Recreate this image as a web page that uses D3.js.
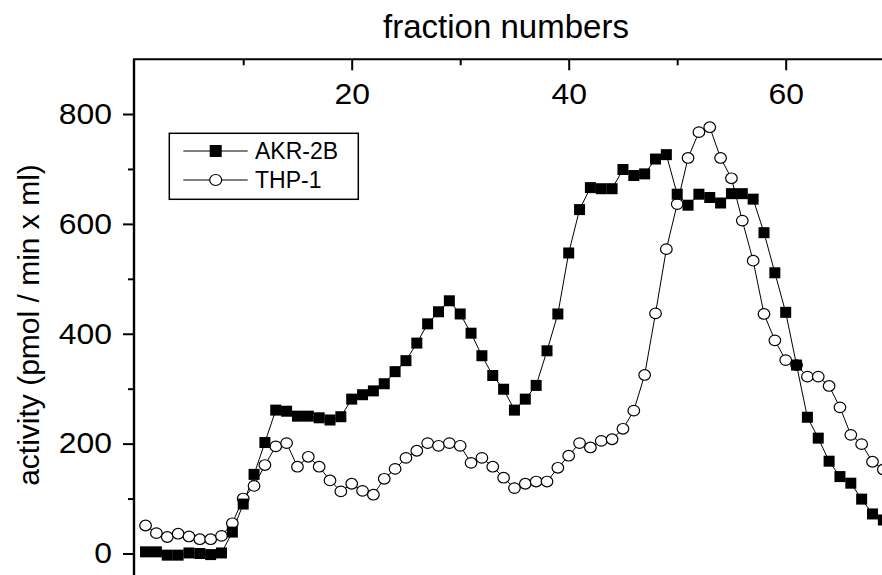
<!DOCTYPE html>
<html lang="en">
<head>
<meta charset="UTF-8">
<title>fraction activity</title>
<style>
  body { margin: 0; background: #fff; }
  svg { display: block; }
  text { font-family: Arial, "Liberation Sans", sans-serif; fill: #000; }
</style>
</head>
<body>
<svg id="chart" width="882" height="575"></svg>
<script src="https://cdn.jsdelivr.net/npm/d3@7"></script>
<script>
// fraction numbers 1..69
var fractions = d3.range(1, 70);
var akr2b = [3, 3, -3, -3, 1, 0, -2, 1, 39, 90,
             144, 202, 261, 259, 250, 250, 247, 243, 249, 281,
             289, 296, 309, 331, 351, 383, 418, 440, 460, 436,
             401, 360, 324, 299, 261, 281, 306, 369, 436, 547,
             626, 666, 664, 664, 699, 688, 691, 718, 726, 654,
             634, 654, 648, 638, 655, 655, 645, 584, 511, 439,
             343, 248, 210, 168, 140, 128, 99, 72, 61];
var thp1 = [51, 37, 30, 36, 31, 26, 26, 32, 55, 100,
            123, 161, 195, 201, 158, 176, 158, 133, 113, 127,
            114, 107, 136, 154, 174, 187, 201, 196, 201, 196,
            165, 174, 158, 138, 119, 127, 131, 131, 156, 178,
            201, 193, 205, 208, 227, 260, 325, 437, 554, 636,
            720, 767, 776, 720, 683, 606, 533, 436, 388, 352,
            343, 322, 322, 305, 266, 216, 199, 167, 153];
var xMajor = [20, 40, 60];
var xMinor = [10, 30, 50, 70];
var yMajor = [0, 200, 400, 600, 800];
var yMinor = [100, 300, 500, 700];
var seriesNames = ["AKR-2B", "THP-1"];

var svg = d3.select("#chart");

var x = d3.scaleLinear().domain([0, 70]).range([134.7, 894.2]);
var y = d3.scaleLinear().domain([0, 800]).range([553.5, 114]);
var topY = 59.3, leftX = 134;
var stretch = 1.1; // tick labels look a bit wide in the original

// lines
var line = d3.line()
    .x(function (d) { return x(d[0]); })
    .y(function (d) { return y(d[1]); });

var akrPts = fractions.map(function (f, i) { return [f, akr2b[i]]; });
var thpPts = fractions.map(function (f, i) { return [f, thp1[i]]; });

[akrPts, thpPts].forEach(function (pts) {
    svg.append("path")
        .attr("d", line(pts))
        .attr("fill", "none")
        .attr("stroke", "#000")
        .attr("stroke-width", 1);
});

// markers
svg.append("g").selectAll("ellipse")
    .data(thpPts)
    .enter().append("ellipse")
    .attr("cx", function (d) { return x(d[0]); })
    .attr("cy", function (d) { return y(d[1]); })
    .attr("rx", 5.8).attr("ry", 5.3)
    .attr("fill", "#fff")
    .attr("stroke", "#000")
    .attr("stroke-width", 1.2);

svg.append("g").selectAll("rect")
    .data(akrPts)
    .enter().append("rect")
    .attr("x", function (d) { return x(d[0]) - 5.5; })
    .attr("y", function (d) { return y(d[1]) - 5.5; })
    .attr("width", 11).attr("height", 11)
    .attr("fill", "#000");

// top axis (ticks and labels hang into the plot)
var xAxis = svg.append("g")
    .attr("transform", "translate(0," + topY + ")")
    .call(d3.axisBottom(x).tickValues(xMajor).tickSize(11).tickPadding(13.4).tickSizeOuter(0));
svg.append("g")
    .attr("transform", "translate(0," + topY + ")")
    .call(d3.axisBottom(x).tickValues(xMinor).tickSize(6).tickFormat("").tickSizeOuter(0));

// left axis
var yAxis = svg.append("g")
    .attr("transform", "translate(" + leftX + ",0)")
    .call(d3.axisLeft(y).tickValues(yMajor).tickSize(11).tickPadding(11).tickSizeOuter(0));
svg.append("g")
    .attr("transform", "translate(" + leftX + ",0)")
    .call(d3.axisLeft(y).tickValues(yMinor).tickSize(6).tickFormat("").tickSizeOuter(0));

svg.selectAll(".domain").remove();
svg.selectAll(".tick line").attr("stroke", "#000").attr("stroke-width", 2);
svg.selectAll(".tick text").style("font-size", "29px").attr("fill", "#000")
    .attr("transform", "scale(" + stretch + ",1)");
yAxis.selectAll(".tick text").attr("x", -22 / stretch);

// axis lines
svg.append("line")
    .attr("x1", leftX - 1).attr("x2", 900)
    .attr("y1", topY).attr("y2", topY)
    .attr("stroke", "#000").attr("stroke-width", 2);
svg.append("line")
    .attr("x1", leftX).attr("x2", leftX)
    .attr("y1", topY).attr("y2", 600)
    .attr("stroke", "#000").attr("stroke-width", 2.4);

// axis titles
svg.append("text")
    .attr("x", 506).attr("y", 38)
    .attr("text-anchor", "middle")
    .style("font-size", "33px")
    .text("fraction numbers");

svg.append("text")
    .attr("transform", "translate(31,325) rotate(-90)")
    .attr("text-anchor", "middle")
    .attr("dy", "0.26em")
    .style("font-size", "30px")
    .text("activity (pmol / min x ml)");

// legend
var legend = svg.append("g");
legend.append("rect")
    .attr("x", 169.3).attr("y", 133.3)
    .attr("width", 189).attr("height", 66)
    .attr("fill", "#fff").attr("stroke", "#000").attr("stroke-width", 1.5);

var rows = [151, 180];
rows.forEach(function (ry, i) {
    legend.append("line")
        .attr("x1", 183.3).attr("x2", 247.7)
        .attr("y1", ry).attr("y2", ry)
        .attr("stroke", "#000").attr("stroke-width", 1);
    if (i === 0) {
        legend.append("rect")
            .attr("x", 215.7 - 6).attr("y", ry - 6)
            .attr("width", 12).attr("height", 12)
            .attr("fill", "#000");
    } else {
        legend.append("ellipse")
            .attr("cx", 215.7).attr("cy", ry)
            .attr("rx", 6).attr("ry", 5.5)
            .attr("fill", "#fff").attr("stroke", "#000").attr("stroke-width", 1.2);
    }
    legend.append("text")
        .attr("x", 255).attr("y", ry + 8.3)
        .style("font-size", "23px")
        .text(seriesNames[i]);
});
</script>
</body>
</html>
